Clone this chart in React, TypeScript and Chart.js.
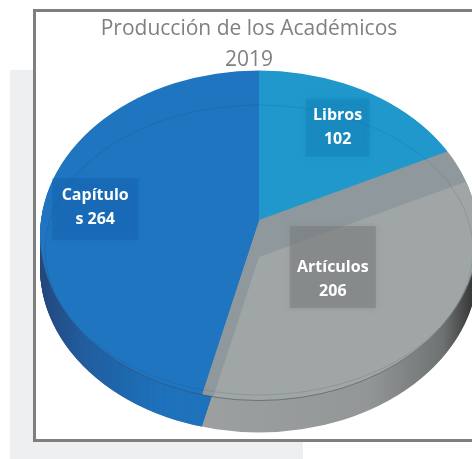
import React, { useEffect, useRef } from "react";
import { Chart, registerables } from "chart.js";

Chart.register(...registerables);

const categories = ["Libros", "Artículos", "Capítulos"];
const values = [102, 206, 264];
const labelFirstLines = ["Libros", "Artículos", "Capítulo"];
const labelSecondLines = ["102", "206", "s 264"];
const titleLines = ["Producción de los Académicos", "2019"];
const sliceColors = ["#2098cb", "#8f999d", "#1f75bf"];
const labelBoxColors = ["rgba(10,110,170,0.28)", "rgba(120,122,124,0.5)", "rgba(15,85,165,0.28)"];

// 3-D look of the pie
const apexX = 259;
const apexY = 220;
const tilt = 0.753;
const drawnRadius = 262;
const rimCx = 259;
const rimCy = 235.5;
const rimRx = 219;
const rimRy = 165;
const depth = 32;
const bevel = 37;
const labelRadii = [148, 95, 165];
const boxSizes = [[64, 58], [86, 82], [86, 62]];
const textShift = [2, 14, 2];
const boxShift = [2, 2, 4];

const place = (ctx: CanvasRenderingContext2D, arc: any, dy = 0) => {
  const k = drawnRadius / arc.outerRadius;
  ctx.translate(apexX, apexY + dy);
  ctx.scale(k, k * tilt);
  ctx.translate(-arc.x, -arc.y);
};

const rimPath = (ctx: CanvasRenderingContext2D, dy = 0) => {
  ctx.beginPath();
  ctx.ellipse(rimCx, rimCy + dy, rimRx, rimRy, 0, 0, Math.PI * 2);
};

const piePlugin = {
  id: "tiltedPie",
  beforeDatasetDraw(chart: any) {
    const ctx: CanvasRenderingContext2D = chart.ctx;
    const arcs = chart.getDatasetMeta(0).data;
    // side wall: library arcs repeated downward, clipped to the shifted rim
    for (let d = depth; d >= 1; d--) {
      ctx.save();
      rimPath(ctx, d);
      ctx.clip();
      ctx.save();
      place(ctx, arcs[0], d);
      arcs.forEach((a: any, i: number) => {
        if (i !== 1) a.draw(ctx);
      });
      ctx.restore();
      ctx.fillStyle = "#9fa3a3";
      ctx.globalCompositeOperation = "destination-over";
      ctx.fillRect(0, 0, 498, 459);
      ctx.restore();
    }
    ctx.save();
    ctx.globalCompositeOperation = "source-atop";
    const g = ctx.createLinearGradient(40, 0, 478, 0);
    g.addColorStop(0, "rgba(40,40,80,0.6)");
    g.addColorStop(0.1, "rgba(40,45,90,0.32)");
    g.addColorStop(0.28, "rgba(20,40,90,0.03)");
    g.addColorStop(0.37, "rgba(0,0,0,0.02)");
    g.addColorStop(0.75, "rgba(0,0,0,0.08)");
    g.addColorStop(0.92, "rgba(0,0,0,0.3)");
    g.addColorStop(1, "rgba(0,0,0,0.72)");
    ctx.fillStyle = g;
    ctx.fillRect(0, 235, 498, 224);
    ctx.restore();
    // top face
    ctx.save();
    rimPath(ctx);
    ctx.clip();
    place(ctx, arcs[0]);
  },
  afterDatasetDraw(chart: any) {
    const ctx: CanvasRenderingContext2D = chart.ctx;
    ctx.restore();
    const arcs = chart.getDatasetMeta(0).data;
    const grey = arcs[1];

    // lighter inner face of the grey slice
    ctx.save();
    rimPath(ctx);
    ctx.clip();
    ctx.fillStyle = "#a0a5a5";
    ctx.save();
    place(ctx, grey, bevel);
    ctx.beginPath();
    ctx.moveTo(grey.x, grey.y);
    ctx.arc(grey.x, grey.y, grey.outerRadius, grey.startAngle, grey.endAngle);
    ctx.closePath();
    ctx.restore();
    ctx.fill();
    ctx.restore();

    // faint inner ring
    ctx.save();
    rimPath(ctx);
    ctx.clip();
    ctx.beginPath();
    ctx.ellipse(rimCx, 250, 214, 145, 0, 0, Math.PI * 2);
    ctx.strokeStyle = "rgba(20,50,90,0.12)";
    ctx.lineWidth = 1;
    ctx.stroke();
    ctx.restore();

    // rim line on the near side
    ctx.beginPath();
    ctx.ellipse(rimCx, rimCy, rimRx, rimRy, 0, 0.1, Math.PI - 0.1);
    ctx.strokeStyle = "rgba(60,70,85,0.5)";
    ctx.lineWidth = 1;
    ctx.stroke();

    // data labels with translucent boxes
    arcs.forEach((a: any, i: number) => {
      const mid = (a.startAngle + a.endAngle) / 2;
      const x = apexX + Math.cos(mid) * labelRadii[i];
      const y = apexY + Math.sin(mid) * labelRadii[i] * tilt;
      const [w, h] = boxSizes[i];
      ctx.save();
      ctx.shadowColor = labelBoxColors[i];
      ctx.shadowBlur = 6;
      ctx.fillStyle = labelBoxColors[i];
      ctx.fillRect(x - w / 2, y + boxShift[i] - h / 2, w, h);
      ctx.restore();
      ctx.save();
      ctx.fillStyle = "#ffffff";
      ctx.font = "bold 16px 'Open Sans'";
      ctx.textAlign = "center";
      ctx.textBaseline = "middle";
      ctx.fillText(labelFirstLines[i], x, y + textShift[i] - 12);
      ctx.fillText(labelSecondLines[i], x, y + textShift[i] + 12);
      ctx.restore();
    });
  },
};

export default function App() {
  const ref = useRef<HTMLCanvasElement>(null);
  useEffect(() => {
    const chart = new Chart(ref.current as HTMLCanvasElement, {
      type: "pie",
      data: {
        labels: categories,
        datasets: [
          {
            data: values,
            backgroundColor: sliceColors,
            borderWidth: 0,
            clip: false,
          } as any,
        ],
      },
      options: {
        responsive: false,
        animation: false,
        layout: { padding: { top: 14 } },
        plugins: {
          legend: { display: false },
          tooltip: { enabled: false },
          title: {
            display: true,
            text: titleLines,
            color: "#808080",
            font: { family: "'Open Sans'", size: 21, weight: "normal", lineHeight: 1.45 },
            padding: 0,
          },
        },
      },
      plugins: [piePlugin],
    });
    return () => chart.destroy();
  }, []);

  return (
    <div style={{ position: "fixed", left: 0, top: 0, width: 472, height: 459, overflow: "hidden", background: "#fff" }}>
      <div style={{ position: "absolute", left: 10, top: 70, width: 293, height: 389, background: "#eeeff1" }} />
      <div
        style={{
          position: "absolute",
          left: 33,
          top: 9,
          width: 460,
          height: 433,
          boxSizing: "border-box",
          border: "3px solid #7f7f7f",
          background: "#fff",
        }}
      />
      <canvas ref={ref} width={498} height={459} style={{ position: "absolute", left: 0, top: 0 }} />
    </div>
  );
}
